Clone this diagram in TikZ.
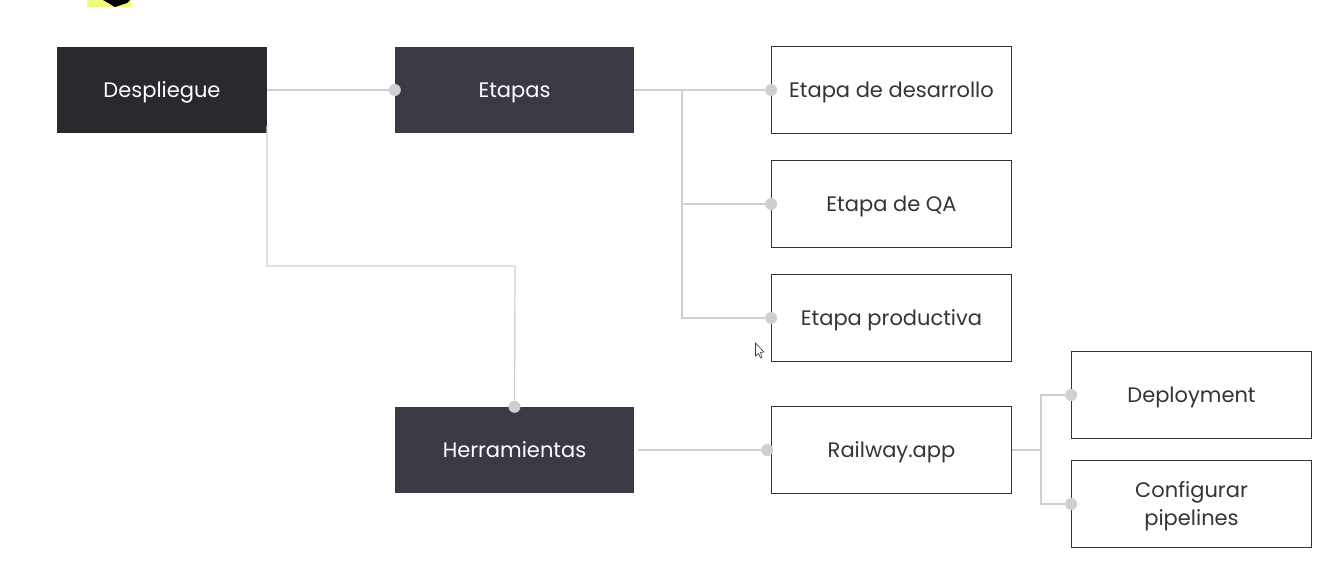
\documentclass[tikz,border=0pt]{standalone}
\usepackage{fontspec}
\setmainfont{Poppins}
\usepackage{tikz}
\definecolor{darkbox}{HTML}{2B282E}
\definecolor{midbox}{HTML}{3B3A44}
\definecolor{wirecol}{HTML}{CFCED2}
\definecolor{inkcol}{HTML}{34333A}
\definecolor{notecol}{HTML}{EEFC7A}
\tikzset{
    every node/.style = {font = \fontsize{21}{28}\selectfont, align = center},
    mainbox/.style = {shape = rectangle, fill = #1, text = white, minimum height = 86pt, inner sep = 0pt,
        text height = 19pt, text depth = 5pt},
    subbox/.style = {shape = rectangle, fill = white, draw = inkcol, line width = 1.1pt, text = inkcol,
        minimum width = 239.6pt, minimum height = 86.6pt, inner sep = 0pt},
    oneline/.style = {text height = 19pt, text depth = 5pt},
    dot/.style = {shape = circle, fill = wirecol, minimum size = 12pt, inner sep = 0pt},
    wire/.style = {draw = wirecol, line width = 1.2pt}
}
\begin{document}
\begin{tikzpicture}[x = 1pt, y = -1pt]
    \useasboundingbox (0,0) rectangle (1332,566);
    % sticker cut off at the top
    \fill[notecol] (87,0) rectangle (131,7);
    \fill[black] (103,0) -- (130,0) -- (127,3) -- (115,7) -- (110,4) -- cycle;
    % boxes
    \node[mainbox = darkbox, minimum width = 210pt] (despliegue) at (162,90) {Despliegue};
    \node[mainbox = midbox, minimum width = 239pt] (etapas) at (514.5,90) {Etapas};
    \node[mainbox = midbox, minimum width = 239pt] (herramientas) at (514.5,450) {Herramientas};
    \node[subbox, oneline] (desarrollo) at (891.5,90) {Etapa de desarrollo};
    \node[subbox, oneline] (qa) at (891.5,204) {Etapa de QA};
    \node[subbox, oneline] (productiva) at (891.5,318) {Etapa productiva};
    \node[subbox, oneline] (railway) at (891.5,450) {Railway.app};
    \node[subbox, oneline] (deployment) at (1191.5,395) {Deployment};
    \node[subbox] (pipelines) at (1191.5,504) {\rule{0pt}{20pt}Configurar\\pipelines};
    % dots
    \node[dot] (dotetapas) at (etapas.west) {};
    \node[dot] (dotherramientas) at (herramientas.north) {};
    \node[dot] (dotrailway) at ([xshift = -4pt]railway.west) {};
    \foreach \name in {desarrollo, qa, productiva, deployment, pipelines}
        \node[dot] (dot\name) at (\name.west) {};
    % connectors
    \coordinate (etapasout) at (682,90);
    \coordinate (railwayout) at (1041,450);
    \coordinate (despliegueout) at (267,126);
    \coordinate (elbow) at (515,266);
    \draw[wire] (despliegue.east) -- (dotetapas);
    \draw[wire] (despliegueout) |- (elbow) -- (dotherramientas);
    \draw[wire] (etapas.east) -- (dotdesarrollo);
    \foreach \name in {qa, productiva}
        \draw[wire] (etapasout) |- (dot\name);
    \draw[wire] ([xshift = 4pt]herramientas.east) -- (dotrailway);
    \draw[wire] (railway.east) -- (railwayout);
    \foreach \name in {deployment, pipelines}
        \draw[wire] (railwayout) |- (dot\name);
    % mouse pointer
    \draw[fill = white, draw = inkcol, line width = 0.6pt] (755.5,343) -- (755.5,356) -- (758.5,353.5) -- (760.5,358) -- (762,357) -- (760.5,352.5) -- (764,352) -- cycle;
\end{tikzpicture}
\end{document}
